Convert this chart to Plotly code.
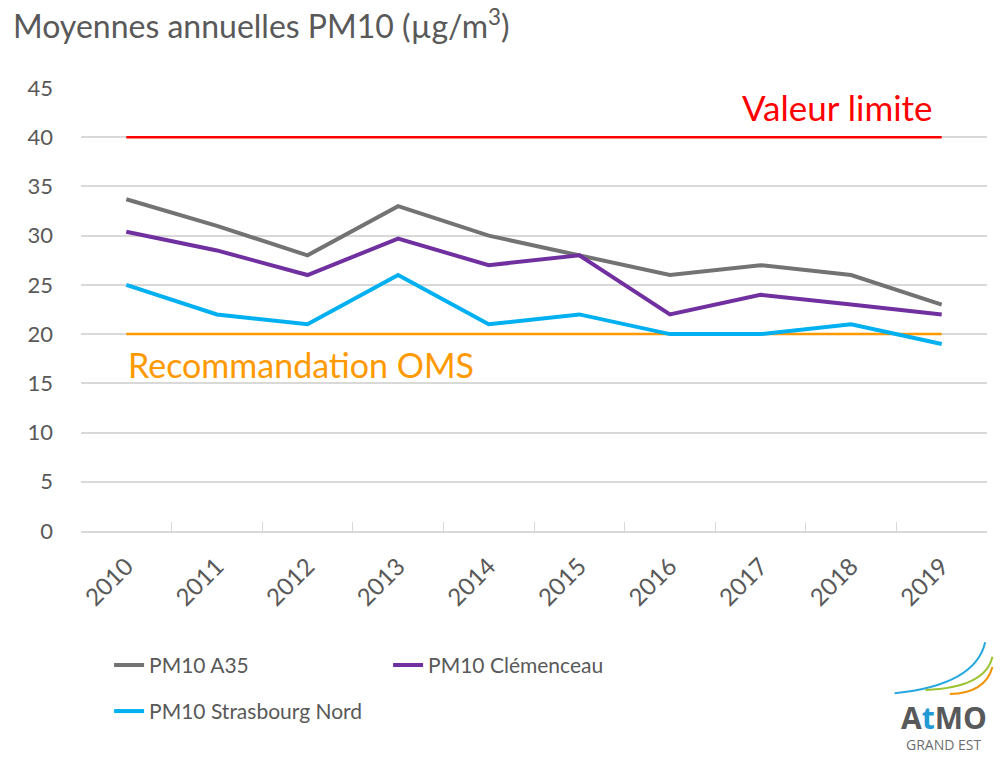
import plotly.graph_objects as go

years = ["2010", "2011", "2012", "2013", "2014", "2015", "2016", "2017", "2018", "2019"]
a35 = [33.7, 31.0, 28.0, 33.0, 30.0, 28.0, 26.0, 27.0, 26.0, 23.0]
clemenceau = [30.4, 28.5, 26.0, 29.7, 27.0, 28.0, 22.0, 24.0, 23.0, 22.0]
strasbourg_nord = [25.0, 22.0, 21.0, 26.0, 21.0, 22.0, 20.0, 20.0, 21.0, 19.0]
valeur_limite = [40] * len(years)
recommandation_oms = [20] * len(years)
y_ticks = [0, 5, 10, 15, 20, 25, 30, 35, 40, 45]

FONT = "Lato"
TXT = "#595959"

fig = go.Figure()
fig.add_trace(go.Scatter(x=years, y=valeur_limite, mode="lines",
                         line=dict(color="#ff0000", width=2.5), showlegend=False, hoverinfo="skip"))
fig.add_trace(go.Scatter(x=years, y=recommandation_oms, mode="lines",
                         line=dict(color="#ff9900", width=2.5), showlegend=False, hoverinfo="skip"))
fig.add_trace(go.Scatter(x=years, y=a35, mode="lines", name="PM10 A35", legend="legend",
                         line=dict(color="#737373", width=4)))
fig.add_trace(go.Scatter(x=years, y=clemenceau, mode="lines", name="PM10 Clémenceau", legend="legend",
                         line=dict(color="#7030a0", width=4)))
fig.add_trace(go.Scatter(x=years, y=strasbourg_nord, mode="lines", name="PM10 Strasbourg Nord",
                         legend="legend2", line=dict(color="#00b0f0", width=4)))

legend_common = dict(orientation="h", xanchor="left", yanchor="top",
                     font=dict(family=FONT, size=21, color=TXT), tracegroupgap=0,
                     itemwidth=30, bgcolor="rgba(0,0,0,0)")

fig.update_layout(
    width=1001, height=757,
    margin=dict(l=81, r=14, t=88, b=226, autoexpand=False),
    paper_bgcolor="white", plot_bgcolor="white",
    font=dict(family=FONT, color=TXT, size=21),
    showlegend=True,
    legend=dict(x=0.031, y=-0.257, entrywidth=234, entrywidthmode="pixels", **legend_common),
    legend2=dict(x=0.031, y=-0.361, **legend_common),
    xaxis=dict(type="category", range=[-0.5, 9.5], tickangle=-45, showgrid=False, showline=True,
               linecolor="#d9d9d9", linewidth=1.5, ticks="inside", ticklen=9,
               tickcolor="#d9d9d9", tickson="boundaries", automargin=False,
               ticklabelstandoff=10,
               tickfont=dict(family=FONT, size=24, color=TXT), fixedrange=True),
    yaxis=dict(range=[0, 45], tickvals=y_ticks, showgrid=True, gridcolor="#d9d9d9",
               gridwidth=1.5, zeroline=False, showline=False, ticks="",
               ticklabelstandoff=27, automargin=False,
               tickfont=dict(family=FONT, size=22, color=TXT), fixedrange=True),
    annotations=[
        dict(text="Moyennes annuelles PM10 (µg/m<sup>3</sup>)", xref="paper", yref="paper",
             x=-0.077, y=1.144, xanchor="left", yanchor="middle", showarrow=False,
             font=dict(family=FONT, size=32, color=TXT)),
        dict(text="Valeur limite", xref="x", yref="y", x=8.93, y=43.1, xanchor="right",
             yanchor="middle", showarrow=False, font=dict(family=FONT, size=35, color="#ff0000")),
        dict(text="Recommandation OMS", xref="x", yref="y", x=0.0, y=16.9, xanchor="left",
             yanchor="middle", showarrow=False, font=dict(family=FONT, size=34, color="#ff9900")),
        dict(text="<b>A<span style='color:#1f9ad6'>t</span>MO</b>", xref="paper", yref="paper",
             x=0.9525, y=-0.422, xanchor="center", yanchor="middle", showarrow=False,
             font=dict(family="Open Sans", size=30, color="#58595b")),
        dict(text="GRAND EST", xref="paper", yref="paper",
             x=0.9525, y=-0.483, xanchor="center", yanchor="middle", showarrow=False,
             font=dict(family="Open Sans", size=14, color="#6d6e71")),
    ],
    shapes=[
        dict(type="path", xref="paper", yref="paper",
             path="M 0.898 -0.366 Q 0.987 -0.348, 0.998 -0.251",
             line=dict(color="#29a8e0", width=2)),
        dict(type="path", xref="paper", yref="paper",
             path="M 0.932 -0.359 Q 0.998 -0.354, 1.006 -0.284",
             line=dict(color="#9cc332", width=2)),
        dict(type="path", xref="paper", yref="paper",
             path="M 0.959 -0.368 Q 0.998 -0.366, 1.006 -0.307",
             line=dict(color="#f39200", width=2)),
    ],
)

fig.write_html("out.html", config={"displayModeBar": False},
               post_script="document.body.style.margin='0';")
